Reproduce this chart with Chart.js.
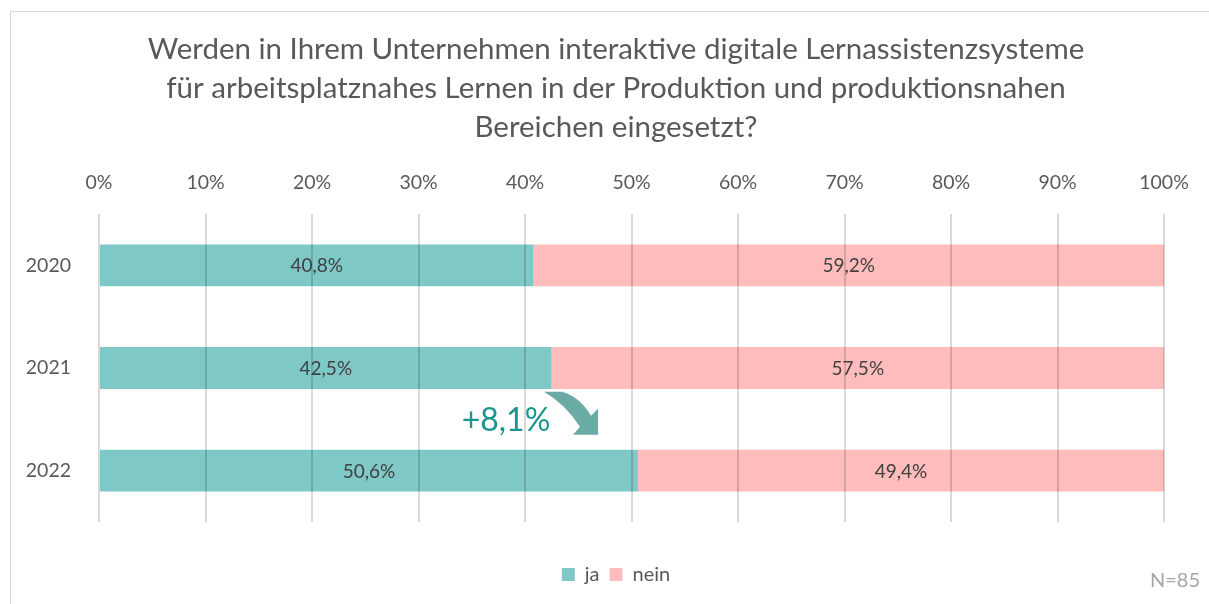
<!DOCTYPE html>
<html>
<head>
<meta charset="utf-8">
<script src="https://cdn.jsdelivr.net/npm/chart.js@4"></script>
<style>
  html, body { margin: 0; padding: 0; background: #fff; overflow: hidden; }
  #box { position: absolute; left: 10px; top: 11px; width: 1210px; height: 600px; border: 1px solid #d9d9d9; }
  canvas { display: block; }
</style>
</head>
<body>
<div id="box"><canvas id="chart" width="1210" height="593"></canvas></div>
<script>
const years = ['2020', '2021', '2022'];
const ja = [40.8, 42.5, 50.6];
const nein = [59.2, 57.5, 49.4];
const titleLines = [
  'Werden in Ihrem Unternehmen interaktive digitale Lernassistenzsysteme',
  'für arbeitsplatznahes Lernen in der Produktion und produktionsnahen',
  'Bereichen eingesetzt?'
];
const changeLabel = '+8,1%';
const sampleNote = 'N=85';

const FONT = 'Lato, "Open Sans", sans-serif';

// value labels in the middle of each segment
const barLabels = {
  id: 'barLabels',
  afterDraw(chart) {
    const ctx = chart.ctx;
    ctx.save();
    ctx.font = '19px ' + FONT;
    ctx.fillStyle = '#404040';
    ctx.textAlign = 'center';
    ctx.textBaseline = 'middle';
    chart.data.datasets.forEach((ds, i) => {
      chart.getDatasetMeta(i).data.forEach((bar, j) => {
        const txt = ds.data[j].toFixed(1).replace('.', ',') + '%';
        ctx.fillText(txt, (bar.x + bar.base) / 2, bar.y + 1);
      });
    });
    ctx.restore();
  }
};

// "+8,1%" note with curved arrow, and N=85
const notes = {
  id: 'notes',
  afterDraw(chart) {
    const ctx = chart.ctx;
    const x = chart.scales.x, y = chart.scales.y;
    const cx = x.getPixelForValue(50);
    const cy = (y.getPixelForValue(1) + y.getPixelForValue(2)) / 2;
    ctx.save();
    ctx.font = '32px ' + FONT;
    ctx.fillStyle = '#1a9690';
    ctx.textAlign = 'center';
    ctx.textBaseline = 'middle';
    ctx.fillText(changeLabel, cx - 125.5, cy + 1.5);

    ctx.fillStyle = '#6aaba5';
    ctx.beginPath();
    ctx.moveTo(cx - 87.5, cy - 27.5);
    ctx.lineTo(cx - 69.5, cy - 27.5);
    ctx.quadraticCurveTo(cx - 51.5, cy - 22.5, cx - 40.5, cy - 3.5);
    ctx.lineTo(cx - 33.5, cy - 10.5);
    ctx.lineTo(cx - 33.5, cy + 15.5);
    ctx.lineTo(cx - 58.5, cy + 15.5);
    ctx.lineTo(cx - 51.5, cy + 7.5);
    ctx.quadraticCurveTo(cx - 66.5, cy - 15.5, cx - 87.5, cy - 27.5);
    ctx.closePath();
    ctx.fill();

    ctx.font = '20px ' + FONT;
    ctx.fillStyle = '#a6a6a6';
    ctx.textAlign = 'right';
    ctx.fillText(sampleNote, chart.width - 21, chart.height - 24);
    ctx.restore();
  }
};

new Chart(document.getElementById('chart'), {
  type: 'bar',
  data: {
    labels: years,
    datasets: [
      { label: 'ja', data: ja, backgroundColor: '#7fc8c8' },
      { label: 'nein', data: nein, backgroundColor: '#ffbcbc' }
    ]
  },
  options: {
    indexAxis: 'y',
    responsive: false,
    animation: false,
    devicePixelRatio: 1,
    // symmetric padding keeps title and legend centred like the original
    layout: { padding: { left: 57, right: 57, top: 0, bottom: 10.5 } },
    datasets: { bar: { barPercentage: 0.408, categoryPercentage: 1 } },
    scales: {
      x: {
        position: 'top',
        stacked: true,
        min: 0,
        max: 100,
        afterFit(scale) { scale.height = 67; },
        ticks: {
          stepSize: 10,
          padding: 20,
          color: '#595959',
          font: { family: FONT, size: 19.5 },
          callback: v => v + '%'
        },
        grid: { color: 'rgba(0,0,0,0.15)', lineWidth: 2, drawTicks: false, z: 1 },
        border: { display: false }
      },
      y: {
        stacked: true,
        afterFit(scale) {
          scale.width = 31;
          // year labels sit in the left padding, so don't clip them to the axis box
          scale._computeLabelArea = () => undefined;
        },
        ticks: { padding: 20, color: '#595959', font: { family: FONT, size: 19.5 } },
        grid: { display: false },
        border: { display: false }
      }
    },
    plugins: {
      title: {
        display: true,
        text: titleLines,
        color: '#595959',
        font: { family: FONT, size: 29.5, weight: 'normal', lineHeight: 39 / 29.5 },
        padding: { top: 18, bottom: 0 }
      },
      legend: {
        position: 'bottom',
        title: { display: true, text: '', font: { size: 10, lineHeight: 1.2 }, padding: { top: 20.5, bottom: 0 } },
        labels: {
          boxWidth: 13,
          boxHeight: 13,
          padding: 10,
          color: '#595959',
          font: { family: FONT, size: 20 }
        }
      },
      tooltip: { enabled: false }
    }
  },
  plugins: [barLabels, notes]
});
</script>
</body>
</html>
